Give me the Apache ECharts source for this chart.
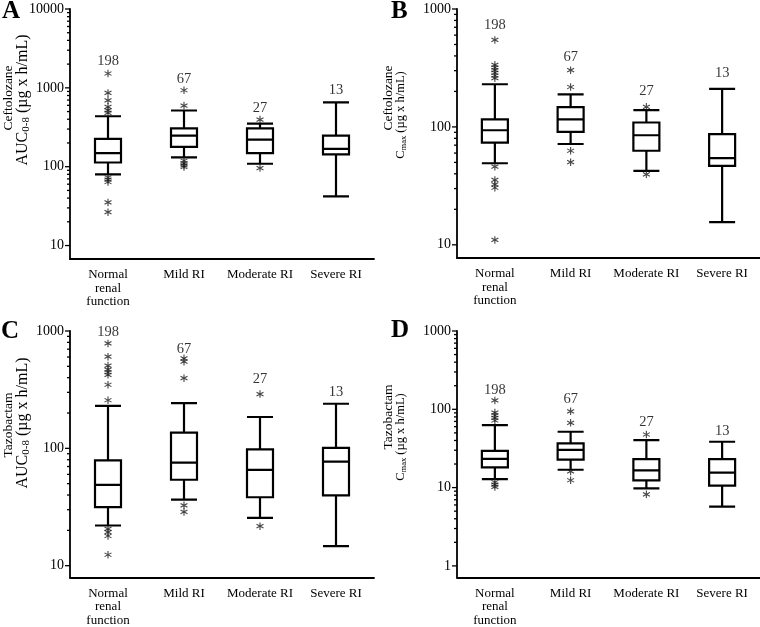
<!DOCTYPE html>
<html><head><meta charset="utf-8">
<script src="https://cdn.jsdelivr.net/npm/echarts@6/dist/echarts.min.js"></script>
<style>html,body{margin:0;padding:0;background:#fff}#c{width:760px;height:627px}</style>
</head><body><div id="c"></div>
<script>
// ---------- data ----------
const categories = ['Normal\nrenal\nfunction', 'Mild RI', 'Moderate RI', 'Severe RI'];
const panelLetters = ['A', 'B', 'C', 'D'];
const nLabels = ['198', '67', '27', '13'];

// box data: [lower whisker, Q1, median, Q3, upper whisker]
const boxA = [[80, 113, 149, 225, 436], [131, 178, 248, 307, 516], [109, 149, 220, 307, 352], [42, 143, 168, 248, 656]];
const boxB = [[49.2, 73.5, 93.7, 116, 230], [71.6, 90.6, 116, 147, 189], [42.4, 62.8, 85, 109, 139], [15.6, 46.8, 54.3, 87, 210]];
const boxC = [[22.0, 31.5, 48.9, 79.1, 230], [36.6, 54, 75.6, 136, 243], [25.6, 38.3, 65.6, 98, 185], [14.7, 39.7, 77, 101, 240]];
const boxD = [[12.8, 18.1, 23.3, 29.4, 62.8], [16.9, 22.7, 30.3, 36.8, 51.7], [9.8, 12.4, 16.6, 23.1, 40.4], [5.7, 10.6, 15.5, 23.1, 38.5]];

// outliers: [category index, value]
const outA = [[0, 1520], [0, 863], [0, 695], [0, 574], [0, 519], [0, 481], [0, 73], [0, 68.4], [0, 64], [0, 35.2], [0, 26.5],
  [1, 933], [1, 596], [1, 119], [1, 111], [1, 104], [1, 99], [2, 396], [2, 96]];
const outB = [[0, 547], [0, 336], [0, 319], [0, 303], [0, 288], [0, 273], [0, 259], [0, 46], [0, 35.5], [0, 32.6], [0, 30.5], [0, 11.0],
  [1, 303], [1, 218], [1, 62.8], [1, 50.2], [2, 148], [2, 39.6]];
const outC = [[0, 784], [0, 604], [0, 507], [0, 469], [0, 445], [0, 423], [0, 348], [0, 257], [0, 20.6], [0, 19.3], [0, 17.9], [0, 12.4],
  [1, 585], [1, 548], [1, 396], [1, 32.7], [1, 28.7], [2, 290], [2, 21.7]];
const outD = [[0, 130], [0, 90.7], [0, 84], [0, 77.6], [0, 72], [0, 11.7], [0, 10.9], [0, 10.2],
  [1, 94.3], [1, 67.2], [1, 16.1], [1, 12.4], [2, 47.7], [2, 8.2]];

// vertical position of the n labels above each box
const nPosA = [2180, 1300, 546, 925];
const nPosB = [728, 390, 199, 286];
const nPosC = [970, 702, 391, 302];
const nPosD = [177, 133, 67.8, 52.5];

// y-axis ranges and major tick labels
const yMin = [6.75, 7.73, 7.93, 0.711];
const yMax = [10000, 1000, 1000, 1000];
const majorTicksA = [10, 100, 1000, 10000];
const majorTicksB = [10, 100, 1000];
const majorTicksC = [10, 100, 1000];
const majorTicksD = [1, 10, 100, 1000];

const boxes = [boxA, boxB, boxC, boxD];
const outs = [outA, outB, outC, outD];
const nPos = [nPosA, nPosB, nPosC, nPosD];
const majors = [majorTicksA, majorTicksB, majorTicksC, majorTicksD];

// ---------- layout ----------
const grids = [
  {left: 70, top: 9, width: 304, height: 250},
  {left: 457, top: 9, width: 303, height: 249},
  {left: 70, top: 331, width: 304, height: 248},
  {left: 457, top: 331, width: 303, height: 249}
];
const FONT = '"Liberation Serif", "Times New Roman", serif';
const asterisk = 'path://M43 0L57 0L57 100L43 100Z M3.2 31.1L10.2 18.9L96.8 68.9L89.8 81.1Z M89.8 18.9L96.8 31.1L10.2 81.1L3.2 68.9Z';

function isPow10(v) { const l = Math.log10(v); return Math.abs(l - Math.round(l)) < 1e-6; }
function tickData(maj) {
  const d = [];
  maj.forEach((m, i) => {
    d.push([0, m, 1]);
    if (i < maj.length - 1) for (let k = 2; k <= 9; k++) d.push([0, m * k, 0]);
  });
  return d;
}

const xAxis = [], yAxis = [], series = [];
for (let i = 0; i < 4; i++) {
  xAxis.push({
    type: 'category', gridIndex: i, data: categories, boundaryGap: true,
    axisLine: {onZero: false, lineStyle: {color: '#000', width: 1.8}},
    axisTick: {alignWithLabel: true, length: 4, lineStyle: {color: '#000', width: 1.6}},
    axisLabel: {color: '#000', fontFamily: FONT, fontSize: 13, lineHeight: 13.5, margin: 9, interval: 0}
  });
  yAxis.push({
    type: 'log', logBase: 10, gridIndex: i, min: yMin[i], max: yMax[i],
    axisLine: {show: true, lineStyle: {color: '#000', width: 1.8}},
    axisTick: {show: false}, minorTick: {show: false}, splitLine: {show: false},
    axisLabel: {color: '#000', fontFamily: FONT, fontSize: 14, margin: 6, showMinLabel: isPow10(yMin[i]),
      formatter: v => isPow10(v) ? String(Math.round(v)) : ''}
  });
  series.push({
    type: 'boxplot', xAxisIndex: i, yAxisIndex: i, data: boxes[i], boxWidth: [26, 26],
    itemStyle: {color: '#fff', borderColor: '#000', borderWidth: 2.2},
    emphasis: {disabled: true}, silent: true
  });
  series.push({
    type: 'scatter', xAxisIndex: i, yAxisIndex: i, data: outs[i], symbol: asterisk, symbolSize: 7.5,
    itemStyle: {color: '#1a1a1a'}, silent: true, z: 5
  });
  series.push({
    type: 'scatter', xAxisIndex: i, yAxisIndex: i, symbolSize: 0,
    data: nPos[i].map((v, k) => [k, v]),
    label: {show: true, position: 'inside', formatter: p => nLabels[p.dataIndex], color: '#000', fontFamily: FONT, fontSize: 14.5},
    silent: true
  });
  series.push({
    type: 'custom', xAxisIndex: i, yAxisIndex: i, data: tickData(majors[i]), encode: {x: 0, y: 1}, silent: true,
    renderItem: (params, api) => {
      const p = api.coord([0, api.value(1)]);
      const x0 = params.coordSys.x;
      const len = api.value(2) ? 5 : 3;
      return {type: 'line', shape: {x1: x0 - len, y1: p[1], x2: x0, y2: p[1]}, style: {stroke: '#000', lineWidth: 1.3}};
    }
  });
}

function rot(x, y, rich, text) {
  return {type: 'text', x: x, y: y, rotation: Math.PI / 2, silent: true,
    style: {text: text, rich: rich, fill: '#000', font: '13px ' + FONT, align: 'center', verticalAlign: 'middle', textAlign: 'center', textVerticalAlign: 'middle'}};
}
const richL1 = {m: {fontFamily: FONT, fontSize: 13.5, lineHeight: 16}};
const richAUC = {
  m: {fontFamily: FONT, fontSize: 16, lineHeight: 18, verticalAlign: 'middle'},
  s: {fontFamily: FONT, fontSize: 11, lineHeight: 11, verticalAlign: 'bottom'}
};
const richCmax = {
  m: {fontFamily: FONT, fontSize: 12.5, lineHeight: 15, verticalAlign: 'middle'},
  s: {fontFamily: FONT, fontSize: 8.5, lineHeight: 9, verticalAlign: 'bottom'}
};
const graphic = [];
const letterPos = [[2, 12], [391, 12], [1, 332], [391, 331]];
panelLetters.forEach((t, i) => graphic.push({type: 'text', x: letterPos[i][0], y: letterPos[i][1], silent: true,
  style: {text: t, fill: '#000', font: 'bold 25px ' + FONT, align: 'left', verticalAlign: 'middle', textAlign: 'left', textVerticalAlign: 'middle'}}));
graphic.push(rot(8, 98, richL1, '{m|Ceftolozane}'));
graphic.push(rot(23, 100, richAUC, '{m|AUC}{s|0-8}{m| (µg x h/mL)}'));
graphic.push(rot(388, 98, richL1, '{m|Ceftolozane}'));
graphic.push(rot(401, 115, richCmax, '{m|C}{s|max}{m| (µg x h/mL)}'));
graphic.push(rot(8, 425, richL1, '{m|Tazobactam}'));
graphic.push(rot(23, 423, richAUC, '{m|AUC}{s|0-8}{m| (µg x h/mL)}'));
graphic.push(rot(388, 417, richL1, '{m|Tazobactam}'));
graphic.push(rot(401, 437, richCmax, '{m|C}{s|max}{m| (µg x h/mL)}'));

const chart = echarts.init(document.getElementById('c'), null, {renderer: 'canvas'});
chart.setOption({
  animation: false, backgroundColor: '#fff',
  grid: grids, xAxis: xAxis, yAxis: yAxis, series: series, graphic: graphic
});
</script></body></html>
